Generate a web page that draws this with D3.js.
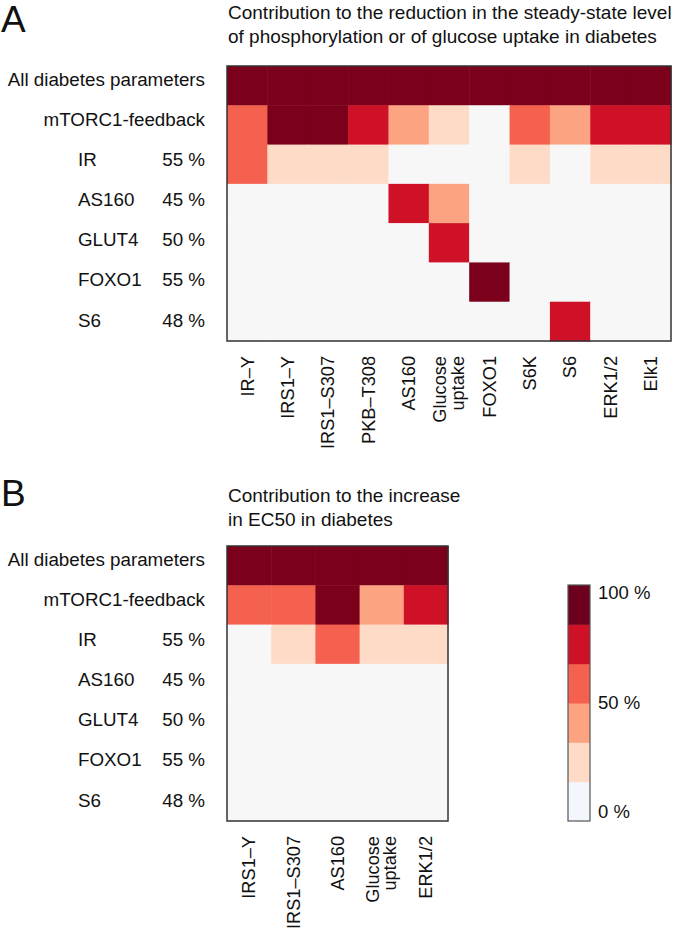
<!DOCTYPE html>
<html><head><meta charset="utf-8">
<script src="https://cdn.jsdelivr.net/npm/d3@7"></script>
<style>
body{margin:0;background:#fff;}
text{font-family:"Liberation Sans",Arial,sans-serif;fill:#111;}
</style></head>
<body>
<svg id="chart" width="693" height="930"></svg>
<script>
// ---- data ----
const rowNames = ["All diabetes parameters","mTORC1-feedback","IR","AS160","GLUT4","FOXO1","S6"];
const rowPct = ["","","55 %","45 %","50 %","55 %","48 %"];
const colsA = ["IR\u2013Y","IRS1\u2013Y","IRS1\u2013S307","PKB\u2013T308","AS160","Glucose\nuptake","FOXO1","S6K","S6","ERK1/2","Elk1"];
const colsB = ["IRS1\u2013Y","IRS1\u2013S307","AS160","Glucose\nuptake","ERK1/2"];
// contribution (%) estimated from colour bins
const valuesA = [
  [95,95,95,95,95,95,95,95,95,95,95],
  [60,95,95,75,40,25,5,60,40,75,75],
  [60,25,25,25,5,5,5,25,5,25,25],
  [5,5,5,5,75,40,5,5,5,5,5],
  [5,5,5,5,5,75,5,5,5,5,5],
  [5,5,5,5,5,5,95,5,5,5,5],
  [5,5,5,5,5,5,5,5,75,5,5]
];
const valuesB = [
  [95,95,95,95,95],
  [60,60,95,40,75],
  [5,25,60,25,25],
  [5,5,5,5,5],
  [5,5,5,5,5],
  [5,5,5,5,5],
  [5,5,5,5,5]
];
const titleA = ["Contribution to the reduction in the steady-state level","of phosphorylation or of glucose uptake in diabetes"];
const titleB = ["Contribution to the increase","in EC50 in diabetes"];
const legendTicks = [0,50,100];
const binEdges = [100/6,200/6,300/6,400/6,500/6];
const binColors = ["#f7f7f7","#fddbc7","#fca482","#f4614e","#cf1128","#7a001b"];
const legendColors = ["#f3f6fc","#fddbc7","#fca482","#f4614e","#cf1128","#6d001d"];

// ---- drawing ----
const svg = d3.select("#chart");
const color = d3.scaleThreshold().domain(binEdges).range(binColors);
const FS = 18.8;
const FSC = 18.2;

function heatmap(cfg){
  const g = svg.append("g");
  const x = d3.scaleBand().domain(d3.range(cfg.cols.length)).range([cfg.x0, cfg.x1]);
  const y = d3.scaleBand().domain(d3.range(rowNames.length)).range([cfg.y0, cfg.y1]);
  const yl = d3.scalePoint().domain(d3.range(rowNames.length)).range([cfg.y0+13, cfg.y1-21]);
  cfg.values.forEach((row,i)=>{
    g.selectAll(null).data(row).enter().append("rect")
      .attr("x",(d,j)=>x(j)).attr("y",y(i))
      .attr("width",x.bandwidth()+0.5).attr("height",y.bandwidth()+0.5)
      .attr("fill",d=>color(d));
  });
  g.append("rect").attr("x",cfg.x0).attr("y",cfg.y0)
    .attr("width",cfg.x1-cfg.x0).attr("height",cfg.y1-cfg.y0)
    .attr("fill","none").attr("stroke","#333").attr("stroke-width",1.5);
  // row labels
  rowNames.forEach((n,i)=>{
    if(i<2){
      g.append("text").attr("x",205).attr("y",yl(i)).attr("dy","0.35em")
        .attr("text-anchor","end").attr("font-size",FS).text(n);
    } else {
      g.append("text").attr("x",78).attr("y",yl(i)).attr("dy","0.35em")
        .attr("font-size",FS).text(n);
      g.append("text").attr("x",205).attr("y",yl(i)).attr("dy","0.35em")
        .attr("text-anchor","end").attr("font-size",FS).text(rowPct[i]);
    }
  });
  // column labels
  cfg.cols.forEach((c,j)=>{
    const lines = c.split("\n");
    const cx = x(j)+x.bandwidth()/2;
    const t = g.append("text").attr("transform",`translate(${cx},${cfg.y1+15}) rotate(-90)`)
      .attr("text-anchor","end").attr("font-size",FSC);
    lines.forEach((l,k)=>{
      t.append("tspan").attr("x",0).attr("y",0)
        .attr("dy",(lines.length===1?0.35:(k===0?-0.15:0.8))+"em").text(l);
    });
  });
  // titles
  svg.append("text").attr("x",1).attr("y",cfg.letterY).attr("font-size",37).text(cfg.letter);
  cfg.title.forEach((l,k)=>{
    svg.append("text").attr("x",228).attr("y",cfg.titleY+k*24).attr("font-size",19).text(l);
  });
}

heatmap({x0:227,x1:671,y0:66,y1:341,cols:colsA,values:valuesA,letter:"A",letterY:32,title:titleA,titleY:19});
heatmap({x0:227,x1:448,y0:546,y1:821,cols:colsB,values:valuesB,letter:"B",letterY:506,title:titleB,titleY:502});

// legend
const lg = svg.append("g");
const ly = d3.scaleLinear().domain([0,100]).range([821,585]);
const bins = d3.range(6);
lg.selectAll("rect.bin").data(bins).enter().append("rect")
  .attr("x",568).attr("width",22)
  .attr("y",d=>ly((d+1)*100/6)).attr("height",d=>ly(d*100/6)-ly((d+1)*100/6)+0.5)
  .attr("fill",d=>legendColors[d]);
lg.append("rect").attr("x",568).attr("y",585).attr("width",22).attr("height",236)
  .attr("fill","none").attr("stroke","#555").attr("stroke-width",1.2);
const lt = d3.scaleLinear().domain([0,100]).range([812,593]);
lg.selectAll("text").data(legendTicks).enter().append("text")
  .attr("x",598).attr("y",d=>lt(d)).attr("dy","0.35em").attr("font-size",18.5)
  .text(d=>d+" %");
</script>
</body></html>
